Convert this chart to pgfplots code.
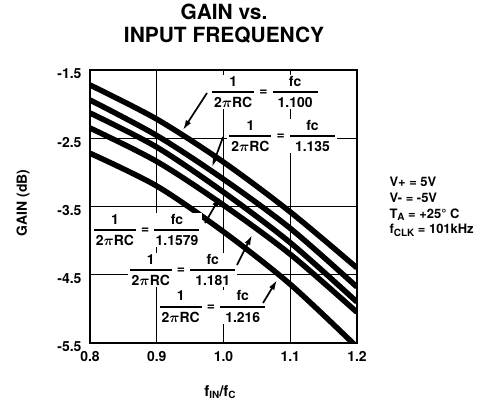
\documentclass[border=0pt]{standalone}
\usepackage{fontspec}
\setmainfont{TeX Gyre Heros}
\usepackage{amsmath}
\usepackage{pgfplots}
\pgfplotsset{compat=1.18}
\usetikzlibrary{arrows.meta}

\newcommand{\sub}[1]{\raisebox{-2.5bp}{\fontsize{10}{10}\selectfont\bfseries #1}}
\newcommand{\lab}[1]{$\genfrac{}{}{1.5bp}{0}{\makebox[42bp]{\bfseries 1}}{\makebox[42bp]{\bfseries 2$\boldsymbol{\pi}$RC}}\mathrel{\hbox{\bfseries =}}\genfrac{}{}{1.5bp}{0}{\makebox[45bp]{\bfseries fc}}{\makebox[45bp]{\bfseries #1}}$}

\begin{document}
\bfseries
\begin{tikzpicture}
\path[use as bounding box] (0,0) rectangle (497bp,402bp);
\begin{axis}[
  at={(90bp,59bp)}, anchor=south west, scale only axis,
  width=267bp, height=273bp,
  xmin=0.8, xmax=1.2, ymin=-5.5, ymax=-1.5,
  xtick={0.8,0.9,1.0,1.1,1.2}, xticklabels={0.8,0.9,1.0,1.1,1.2},
  ytick={-5.5,-4.5,-3.5,-2.5,-1.5}, yticklabels={-5.5,-4.5,-3.5,-2.5,-1.5},
  grid=major, major grid style={black, line width=1.1bp},
  axis line style={line width=1.8bp},
  major tick length=0pt,
  tick label style={font=\bfseries\fontsize{14}{16}\selectfont},
  yticklabel style={xshift=-5bp, yshift=-4bp},
  xticklabel style={yshift=-5bp},
  title={GAIN vs.\\INPUT FREQUENCY},
  title style={at={(axis description cs:0.502,1.148)}, anchor=center, align=center,
    font=\bfseries\fontsize{21}{23}\selectfont},
  xlabel={f\sub{IN}/f\sub{C}},
  xlabel style={at={(axis description cs:0.487,-0.1795)}, anchor=center,
    font=\bfseries\fontsize{15}{17}\selectfont},
  ylabel={GAIN (dB)},
  ylabel style={at={(axis description cs:-0.251,0.513)}, anchor=center,
    font=\bfseries\fontsize{14}{16}\selectfont},
]
% fc/1.100
\addplot[black, line width=5.5bp, smooth, tension=0.5] coordinates {
  (0.8,-1.72) (0.9,-2.22) (1.0,-2.85) (1.1,-3.58) (1.2,-4.40)};
% fc/1.135
\addplot[black, line width=5.5bp, smooth, tension=0.5] coordinates {
  (0.8,-1.94) (0.9,-2.46) (1.0,-3.10) (1.1,-3.82) (1.2,-4.68)};
% fc/1.1579
\addplot[black, line width=5.5bp, smooth, tension=0.5] coordinates {
  (0.8,-2.13) (0.9,-2.63) (1.0,-3.29) (1.1,-4.03) (1.2,-4.90)};
% fc/1.181
\addplot[black, line width=5.5bp, smooth, tension=0.5] coordinates {
  (0.8,-2.35) (0.9,-2.84) (1.0,-3.48) (1.1,-4.20) (1.2,-5.05)};
% fc/1.216
\addplot[black, line width=5.5bp, smooth, tension=0.5] coordinates {
  (0.8,-2.72) (0.9,-3.20) (1.0,-3.87) (1.1,-4.64) (1.2,-5.56)};

\tikzset{lbl/.style={fill=white, inner sep=1bp, font=\bfseries\fontsize{14}{16}\selectfont}}
\node[lbl] at (axis cs:1.062,-1.822) {\lab{1.100}};
\node[lbl] at (axis cs:1.088,-2.465) {\lab{1.135}};
\node[lbl] at (axis cs:0.885,-3.844) {\lab{1.1579}};
\node[lbl] at (axis cs:0.9386,-4.43) {\lab{1.181}};
\node[lbl] at (axis cs:0.9835,-4.97) {\lab{1.216}};

\tikzset{arr/.style={line width=1.7bp, -{Latex[length=10bp,width=6bp]}}}
\draw[arr] (axis cs:0.9753,-1.837) -- (axis cs:0.9393,-2.379);
\draw[arr] (axis cs:0.9993,-2.482) -- (axis cs:0.9828,-2.921);
\draw[arr] (axis cs:0.9723,-3.742) -- (axis cs:0.9948,-3.361);
\draw[arr] (axis cs:1.0202,-4.357) -- (axis cs:1.0427,-3.918);
\draw[arr] (axis cs:1.0592,-4.914) -- (axis cs:1.0801,-4.577);
\end{axis}
\node[anchor=north west, align=left, font=\bfseries\fontsize{13}{15.7}\selectfont]
  at (386bp,228bp) {V+ = 5V\\V- = -5V\\T\sub{A} = +25° C\\f\sub{CLK} = 101kHz};
\end{tikzpicture}
\end{document}
